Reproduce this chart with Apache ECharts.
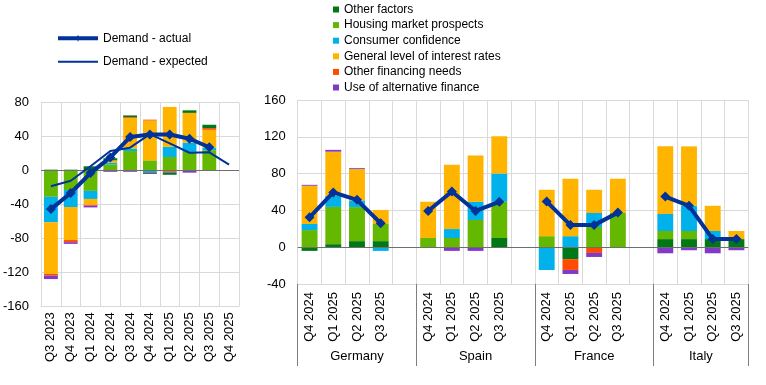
<!DOCTYPE html>
<html><head><meta charset="utf-8">
<script src="https://cdn.jsdelivr.net/npm/echarts@6/dist/echarts.min.js"></script>
<style>html,body{margin:0;padding:0;background:#fff}#c{width:766px;height:385px}</style>
</head><body><div id="c"></div>
<script>
// ---------- Left panel (euro area, time series) ----------
const leftCategories = ['Q3 2023','Q4 2023','Q1 2024','Q2 2024','Q3 2024','Q4 2024','Q1 2025','Q2 2025','Q3 2025','Q4 2025'];
const leftHousing     = [-31, -23, -24, 7, 23, 12, 16, 22, 24, null];
const leftConsumer    = [-30, -20, -9.5, 2, 3, -2, 12, 11, 3, null];
const leftInterest    = [-61, -39, -7, 3, 36, 47, 47, 35, 21, null];
const leftFinancing   = [-2, -2.5, -1, 0, 1, 1, -1.5, 0, 2, null];
const leftAlternative = [-4, -2, -2, -1.5, -1.5, -1, -1, -2.5, 0, null];
const leftOther       = [1, 1, 5, 2.5, 2, -1, -2.5, 3, 4, null];
const leftActual      = [-45.5, -26.5, -3, 15.5, 39.5, 42.5, 42.5, 37.5, 27.5, null];
const leftExpected    = [-18.5, -12, 5, 23, 27, 43, 32, 21, 21.5, 7];
const leftTicks = { min: -160, max: 80, interval: 40 };

// ---------- Right panel (countries) ----------
const countries = ['Germany', 'Spain', 'France', 'Italy'];
const rightCategories = ['Q4 2024','Q1 2025','Q2 2025','Q3 2025','',
                         'Q4 2024','Q1 2025','Q2 2025','Q3 2025','',
                         'Q4 2024','Q1 2025','Q2 2025','Q3 2025','',
                         'Q4 2024','Q1 2025','Q2 2025','Q3 2025'];
const rightOther       = [-4, 3.3, 6.6, 6.6, null, 0, 0, 0, 10, null, 0, -13, 0, 0, null, 8.8, 8.8, 8.8, 8.8];
const rightHousing     = [18.6, 40.5, 37, 18.6, null, 10, 10, 29.6, 39.4, null, 12, 0, 22, 37.2, null, 8.8, 8.8, 0, 0];
const rightConsumer    = [6.6, 12, 7.3, -4, null, 0, 9.7, 19.7, 30.7, null, -24.8, 12, 15.2, 0, null, 18.6, 27.4, 8.8, 0];
const rightInterest    = [41.6, 48, 34, 15.3, null, 39.4, 70, 50.4, 40.5, null, 50.4, 62.4, 25.2, 37.2, null, 73.4, 64.6, 27.4, 8.8];
const rightFinancing   = [0, 0, 0, 0, null, 0, 0, 0, 0, null, 0, -11.7, -6.2, 0, null, 0, 0, 0, 0];
const rightAlternative = [1, 2, 1, 0, null, 0, -4, -4, 0, null, 0, -4.4, -4.4, 0, null, -6.6, -3.3, -6.6, -3.3];
const rightActual      = [32.5, 59.5, 51.5, 26, null, 39.4, 60.6, 39.4, 49.3, null, 49.6, 24, 24, 37.6, null, 55, 45, 8.8, 8.8];
const rightTicks = { min: -40, max: 160, interval: 40 };

// group axis: 39 half-slot points (boundaryGap false) -> group centres & boundaries
const groupLabelIdx = [5, 15, 25, 34];
const groupBoundaryIdx = [0, 10, 20, 30, 38];
const groupSlots = Array.from({length: 39}, (_, i) => {
  const k = groupLabelIdx.indexOf(i);
  return k >= 0 ? countries[k] : '';
});

const N = {
  other: 'Other factors',
  housing: 'Housing market prospects',
  consumer: 'Consumer confidence',
  interest: 'General level of interest rates',
  financing: 'Other financing needs',
  alternative: 'Use of alternative finance',
  actual: 'Demand - actual',
  expected: 'Demand - expected'
};
const COL = {
  other: '#007816', housing: '#65B800', consumer: '#00B1EA',
  interest: '#FFB400', financing: '#FF4B00', alternative: '#8139C6', line: '#003299'
};
const FONT = 'Liberation Sans, Arial, sans-serif';
const GRID = '#d9d9d9';

function bar(key, data, gi, stack, gap, zero) {
  const s = {
    name: N[key], type: 'bar', stack: stack, data: data,
    xAxisIndex: gi === 0 ? 0 : 1, yAxisIndex: gi,
    barCategoryGap: gap, itemStyle: { color: COL[key] }
  };
  if (zero) {
    s.markLine = {
      silent: true, symbol: ['none', 'none'], label: { show: false },
      lineStyle: { color: '#6e6e6e', type: 'solid', width: 1 },
      data: [{ yAxis: 0 }], animation: false
    };
  }
  return s;
}

const xBase = (data, margin, gi) => ({
  type: 'category', gridIndex: gi, data: data,
  axisLine: { show: true, onZero: false, lineStyle: { color: GRID } },
  axisTick: { show: false },
  axisLabel: { rotate: 90, interval: 0, margin: margin, fontSize: 13, color: '#000', fontFamily: FONT },
  splitLine: { show: true, interval: 0, lineStyle: { color: GRID, width: 1 } }
});
const yBase = (t, gi) => ({
  type: 'value', gridIndex: gi, min: t.min, max: t.max, interval: t.interval,
  axisLine: { show: false }, axisTick: { show: false },
  axisLabel: { margin: 12, fontSize: 13, color: '#000', fontFamily: FONT },
  splitLine: { lineStyle: { color: GRID, width: 1 } }
});

const legendText = { fontSize: 12, color: '#000', fontFamily: FONT, lineHeight: 14 };

const option = {
  animation: false,
  backgroundColor: '#fff',
  textStyle: { fontFamily: FONT },
  grid: [
    { left: 39, top: 102.7, width: 200, height: 203.5 },
    { left: 297.7, top: 100, width: 450.6, height: 184 }
  ],
  legend: [
    {
      orient: 'vertical', left: 58, top: 31.3, padding: 0, itemWidth: 40, itemHeight: 7, itemGap: 9.4,
      data: [
        { name: N.actual, icon: 'path://M0,1.5H40V5.5H0Z M20,0L21.6,3.5L20,7L18.4,3.5Z' },
        { name: N.expected, icon: 'path://M0,2.5H40V4.5H0Z M0,0H0.01V7H0Z' }
      ],
      textStyle: legendText
    },
    {
      orient: 'vertical', left: 333, top: 2.5, padding: 0, itemWidth: 6, itemHeight: 6, itemGap: 1.6,
      icon: 'rect',
      data: [N.other, N.housing, N.consumer, N.interest, N.financing, N.alternative],
      textStyle: legendText
    }
  ],
  xAxis: [
    xBase(leftCategories, 6, 0),
    xBase(rightCategories, 8, 1),
    {
      type: 'category', gridIndex: 1, data: groupSlots, boundaryGap: false, position: 'bottom',
      axisLine: { show: false, onZero: false },
      axisTick: { show: true, length: 82, lineStyle: { color: '#7f7f7f' },
                  interval: (i) => groupBoundaryIdx.indexOf(i) >= 0 },
      axisLabel: { interval: 0, margin: 66, fontSize: 13, color: '#000', fontFamily: FONT },
      splitLine: { show: false }
    }
  ],
  yAxis: [yBase(leftTicks, 0), yBase(rightTicks, 1)],
  series: [
    bar('housing', leftHousing, 0, 'L', '30%', true),
    bar('consumer', leftConsumer, 0, 'L', '30%'),
    bar('interest', leftInterest, 0, 'L', '30%'),
    bar('financing', leftFinancing, 0, 'L', '30%'),
    bar('alternative', leftAlternative, 0, 'L', '30%'),
    bar('other', leftOther, 0, 'L', '30%'),
    bar('other', rightOther, 1, 'R', '33%', true),
    bar('housing', rightHousing, 1, 'R', '33%'),
    bar('consumer', rightConsumer, 1, 'R', '33%'),
    bar('interest', rightInterest, 1, 'R', '33%'),
    bar('financing', rightFinancing, 1, 'R', '33%'),
    bar('alternative', rightAlternative, 1, 'R', '33%'),
    {
      name: N.expected, type: 'line', data: leftExpected, xAxisIndex: 0, yAxisIndex: 0,
      symbol: 'none', z: 5, lineStyle: { color: COL.line, width: 2 }, itemStyle: { color: COL.line }
    },
    {
      name: N.actual, type: 'line', data: leftActual, xAxisIndex: 0, yAxisIndex: 0,
      symbol: 'diamond', symbolSize: 10, z: 6,
      lineStyle: { color: COL.line, width: 4 }, itemStyle: { color: COL.line }
    },
    {
      name: N.actual, type: 'line', data: rightActual, xAxisIndex: 1, yAxisIndex: 1,
      symbol: 'diamond', symbolSize: 10, z: 6, connectNulls: false,
      lineStyle: { color: COL.line, width: 4 }, itemStyle: { color: COL.line }
    }
  ]
};
const chart = echarts.init(document.getElementById('c'), null, { renderer: 'canvas' });
chart.setOption(option);
</script>
</body></html>
